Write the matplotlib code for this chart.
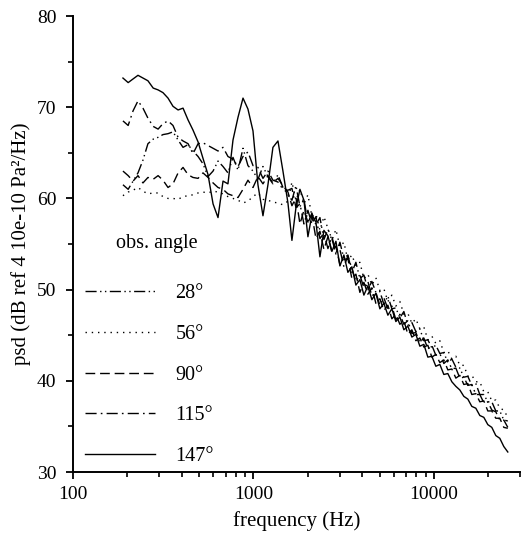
import matplotlib
matplotlib.use("Agg")
import matplotlib.pyplot as plt
from matplotlib.ticker import LogLocator, NullFormatter, MultipleLocator, FixedLocator, FixedFormatter

plt.rcParams['font.family'] = ['Liberation Serif', 'DejaVu Serif']
plt.rcParams['lines.scale_dashes'] = False

# frequency grid (Hz)
freq_low = [189, 202, 215, 229, 244, 260, 278, 296, 315, 336, 358, 382, 407, 434, 462,
            493, 525, 560, 597, 636, 678, 722, 770, 821, 875, 932, 994, 1059, 1129, 1203,
            1282, 1367, 1457, 1553]
freq_high = [1634, 1720, 1810, 1905, 2004, 2109, 2220, 2336, 2458, 2587, 2722, 2865, 3015,
             3172, 3338, 3513, 3697, 3890, 4094, 4308, 4534, 4771, 5021, 5284, 5561, 5852,
             6158, 6480, 6820, 7177, 7553, 7948, 8364, 8802, 9263, 9748, 10258, 10795, 11360,
             11955, 12581, 13240, 13933, 14662, 15430, 16237, 17087, 17982, 18923, 19914,
             20956, 22053, 23208, 24423, 25702]

# psd values (dB) per observation angle
psd28_low = [61.5, 61.0, 61.9, 62.8, 64.2, 66.0, 66.5, 66.7, 67.0, 67.1, 67.3, 66.4, 65.6, 65.9,
             65.2, 64.6, 63.8, 62.4, 63.0, 64.1, 63.5, 62.8, 64.5, 63.1, 65.5, 63.6, 63.0, 62.1,
             63.5, 62.4, 61.6, 62.6, 61.2, 60.4]
psd28_high = [59.8, 61.4, 59.1, 59.9, 57.3, 58.4, 57.1, 57.9, 55.5, 56.6, 55.6, 53.9, 55.2, 53.4,
              53.8, 51.9, 53.0, 51.2, 51.6, 50.0, 50.9, 49.7, 49.8, 48.4, 49.3, 47.9, 48.0, 46.9,
              47.6, 46.1, 46.4, 45.4, 45.7, 44.4, 44.5, 43.6, 43.9, 43.0, 43.1, 42.0, 42.4, 41.5,
              41.4, 40.4, 40.5, 39.5, 39.7, 38.5, 38.5, 37.7, 37.7, 36.7, 36.7, 35.7, 35.6]

psd56_low = [60.3, 60.7, 60.9, 61.2, 60.8, 60.5, 60.6, 60.6, 60.2, 60.0, 60.0, 59.9, 60.2, 60.3,
             60.4, 60.6, 60.7, 60.6, 60.8, 60.7, 60.5, 60.2, 60.0, 59.8, 59.5, 59.7, 60.2, 60.6,
             59.9, 59.8, 59.6, 59.5, 59.3, 59.7]
psd56_high = [61.8, 59.8, 61.0, 59.4, 60.4, 58.0, 58.3, 56.5, 58.0, 56.7, 55.4, 56.6, 54.7, 55.2,
              53.2, 53.8, 52.6, 53.0, 51.2, 51.7, 50.5, 51.3, 49.9, 50.1, 48.7, 49.4, 48.2, 48.7,
              47.3, 47.4, 46.3, 46.8, 45.7, 45.9, 44.5, 44.9, 44.1, 44.4, 43.1, 43.3, 42.4, 42.7,
              41.7, 41.7, 40.5, 40.6, 39.9, 39.9, 38.8, 38.8, 37.8, 37.9, 37.0, 36.8, 36.0]

psd90_low = [63.0, 62.5, 61.9, 62.5, 61.7, 62.3, 62.1, 62.5, 62.0, 61.2, 61.6, 62.8, 63.4, 62.6,
             62.3, 62.2, 62.8, 62.3, 61.7, 61.2, 61.0, 60.5, 60.3, 60.1, 61.0, 62.0, 61.2, 62.4,
             61.6, 62.5, 61.7, 62.2, 61.4, 60.7]
psd90_high = [59.2, 60.1, 57.2, 58.7, 57.4, 58.2, 55.6, 56.4, 54.4, 55.8, 54.1, 54.8, 52.7, 53.3,
              53.4, 51.2, 51.7, 49.7, 50.8, 49.5, 50.2, 48.5, 49.0, 47.7, 48.3, 46.8, 47.3, 46.2,
              46.6, 45.1, 45.6, 44.4, 44.7, 43.7, 43.9, 42.6, 42.9, 42.0, 42.3, 41.2, 41.3, 40.3,
              40.6, 39.6, 39.7, 38.5, 38.6, 37.7, 37.8, 36.7, 36.7, 35.9, 35.9, 34.9, 34.8]

psd115_low = [68.5, 68.0, 69.6, 70.7, 69.9, 68.8, 67.9, 67.6, 68.2, 68.5, 68.0, 66.7, 66.3, 66.0,
              64.9, 66.0, 66.1, 65.8, 65.5, 65.2, 65.6, 64.6, 64.3, 63.5, 64.6, 65.1, 63.6, 63.4,
              62.2, 63.0, 62.0, 61.8, 61.0, 60.9]
psd115_high = [61.1, 59.0, 59.4, 57.2, 58.7, 57.2, 58.0, 55.6, 56.2, 54.5, 55.8, 54.1, 54.4, 52.5,
               53.7, 52.3, 50.9, 51.6, 50.2, 50.9, 49.3, 49.7, 48.3, 49.1, 47.9, 48.2, 46.7, 47.3,
               46.2, 46.6, 45.2, 45.3, 44.2, 44.7, 43.5, 43.9, 42.8, 43.0, 41.9, 42.3, 41.3, 41.4,
               40.3, 40.4, 39.5, 39.6, 38.5, 38.5, 37.6, 37.7, 36.8, 36.6, 35.7, 35.7, 34.9]

psd147_low = [73.2, 72.7, 73.1, 73.5, 73.2, 72.9, 72.1, 71.9, 71.6, 71.0, 70.1, 69.7, 69.9, 68.6,
              67.5, 66.2, 64.4, 62.6, 59.4, 57.9, 61.9, 61.6, 66.4, 68.9, 71.0, 69.8, 67.4, 61.5,
              58.1, 61.5, 65.6, 66.3, 63.0, 59.5]
psd147_high = [55.4, 59.0, 61.0, 59.8, 55.8, 58.2, 57.4, 53.6, 56.5, 55.9, 54.2, 55.3, 52.6, 53.8,
               51.9, 52.5, 50.5, 51.1, 49.4, 50.4, 48.9, 49.6, 47.9, 48.5, 47.2, 47.9, 46.5, 47.0,
               45.6, 46.0, 44.8, 45.1, 43.8, 44.0, 42.6, 42.7, 41.6, 41.8, 40.7, 40.8, 39.9, 39.4,
               39.0, 38.3, 38.0, 37.2, 37.0, 36.2, 36.0, 35.2, 34.9, 34.0, 33.7, 32.8, 32.2]

angles = ['28°', '56°', '90°', '115°', '147°']
series = [psd28_low + psd28_high, psd56_low + psd56_high, psd90_low + psd90_high,
          psd115_low + psd115_high, psd147_low + psd147_high]
styles = [(0, (8, 2.5, 1, 2.5, 1, 2.5)), (0, (1, 3.5)), (0, (7, 3.5)), (0, (8, 3, 1.2, 3)), '-']

freq = freq_low + freq_high

fig = plt.figure(figsize=(5.22, 5.34), dpi=100)
ax = fig.add_axes([0.140, 0.116, 0.856, 0.854])

for lab, vals, ls in zip(angles, series, styles):
    ax.plot(freq, vals, color='black', lw=1.0, linestyle=ls, label=lab)

ax.set_xscale('log')
ax.set_xlim(100, 30000)
ax.set_ylim(30, 80)
ax.xaxis.set_major_locator(FixedLocator([100, 1000, 10000]))
ax.xaxis.set_major_formatter(FixedFormatter(['100', '1000', '10000']))
ax.xaxis.set_minor_locator(LogLocator(base=10, subs=[2, 3, 4, 5, 6, 7, 8, 9], numticks=20))
ax.xaxis.set_minor_formatter(NullFormatter())
ax.yaxis.set_major_locator(MultipleLocator(10))
ax.yaxis.set_minor_locator(MultipleLocator(5))

for s in ['top', 'right']:
    ax.spines[s].set_visible(False)
for s in ['left', 'bottom']:
    ax.spines[s].set_linewidth(1.4)

ax.tick_params(which='major', direction='out', length=5, width=1.3, labelsize=14, pad=5)
ax.tick_params(which='minor', direction='out', length=3.5, width=1.2)
ax.tick_params(axis='y', which='major', pad=7)

ax.set_xlabel('frequency (Hz)', fontsize=15, labelpad=6)
ax.set_ylabel('psd (dB ref 4 10e-10 Pa²/Hz)', fontsize=15, labelpad=4)

leg = ax.legend(loc='lower left', bbox_to_anchor=(0.013, 0.0), frameon=False,
                fontsize=14.5, handlelength=3.5, handletextpad=1.0, labelspacing=1.07,
                borderaxespad=0.0, borderpad=0.3)
ax.text(0.188, 0.502, 'obs. angle', transform=ax.transAxes, fontsize=14.5,
        ha='center', va='center')

fig.savefig('out.png', dpi=100)
